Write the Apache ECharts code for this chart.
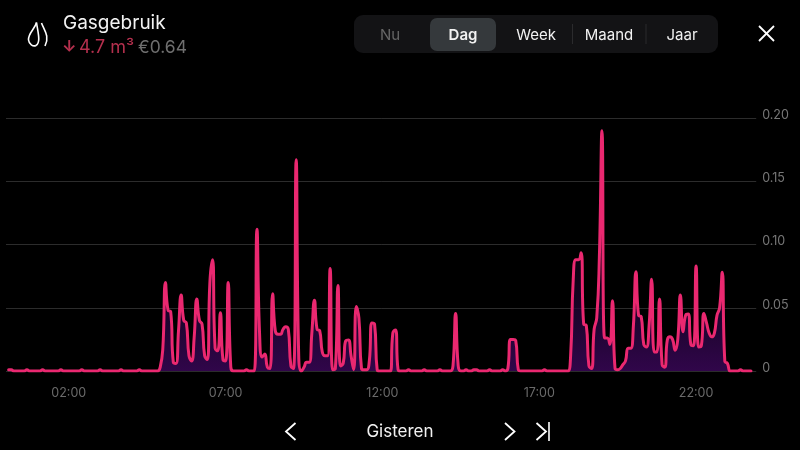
<!DOCTYPE html>
<html><head><meta charset="utf-8">
<style>html,body{margin:0;padding:0;background:#000}#c{width:800px;height:450px}</style>
<script src="https://cdn.jsdelivr.net/npm/echarts@6/dist/echarts.min.js"></script>
</head><body><div id="c"></div>
<script>
const title = 'Gasgebruik';
const arrowText = '↓';
const usageText = '4.7 m³';
const costText = '€0.64';
const ranges = ['Nu','Dag','Week','Maand','Jaar'];
const dayText = 'Gisteren';
const tickHours = ['02:00','07:00','12:00','17:00','22:00'];
const yTicks = [0,0.05,0.10,0.15,0.20];
// 5-minute readings, one row per hour
const h00 = [null,0.001,0.001,0,0,0,0,0,0.001,0,0,0];
const h01 = [0,0,0.001,0,0,0,0,0,0,0.001,0,0];
const h02 = [0,0,0,0,0,0.001,0,0,0,0,0,0];
const h03 = [0.001,0,0,0,0,0,0,0,0.001,0,0,0];
const h04 = [0,0,0,0.001,0,0,0,0,0,0,0,0.003];
const h05 = [0.018,0.07,0.048,0.047,0.007,0.006,0.032,0.06,0.04,0.038,0.012,0.008];
const h06 = [0.027,0.057,0.04,0.037,0.012,0.009,0.07,0.088,0.018,0.016,0.046,0.009];
const h07 = [0.008,0.07,0.003,0,0,0,0,0,0.001,0,0,0];
const h08 = [0.112,0.03,0.011,0.0135,0.003,0.002,0.061,0.032,0.029,0.029,0.033,0.035];
const h09 = [0.033,0.004,0.002,0.167,0.01,0,0.003,0.007,0.007,0.03,0.056,0.033];
const h10 = [0.032,0.015,0.012,0.012,0.081,0.001,0.002,0.0675,0.004,0.006,0.024,0.0245];
const h11 = [0.012,0.001,0.051,0.042,0.002,0.001,0.001,0.008,0.038,0.037,0.001,0];
const h12 = [0,0,0,0,0.03,0.0325,0.001,0,0,0,0.001,0];
const h13 = [0,0,0,0,0.001,0,0,0,0,0,0.001,0];
const h14 = [0,0,0,0.004,0.0455,0.004,0,0,0.001,0,0,0.001];
const h15 = [0.001,0,0,0,0,0.001,0,0,0,0,0.001,0];
const h16 = [0.002,0.025,0.025,0.024,0.001,0,0,0,0,0,0,0];
const h17 = [0,0,0.001,0,0,0,0,0,0,0,0,0];
const h18 = [0.012,0.072,0.088,0.088,0.0935,0.037,0.036,0.004,0.002,0.033,0.042,0.09];
const h19 = [0.19,0.026,0.026,0.021,0.0555,0.002,0.001,0.002,0.005,0.008,0.018,0.018];
const h20 = [0.035,0.0785,0.044,0.043,0.021,0.019,0.035,0.0725,0.015,0.015,0.057,0.005];
const h21 = [0.003,0.0245,0.027,0.025,0.0165,0.025,0.06,0.031,0.044,0.045,0.021,0.02];
const h22 = [0.083,0.019,0.02,0.0455,0.038,0.03,0.027,0.03,0.044,0.05,0.078,0.0075];
const h23 = [0.006,0,0,0,0,0.001,0,0,0,0,null,null];
const gas = [h00,h01,h02,h03,h04,h05,h06,h07,h08,h09,h10,h11,h12,h13,h14,h15,h16,h17,h18,h19,h20,h21,h22,h23].flat();
const categories = gas.map((_, i) => String(Math.floor(i/12)).padStart(2,'0') + ':' + String((i%12)*5).padStart(2,'0'));

const font = 'Inter';
const tabX = [390,463,536,609,682];
const curve = (x1,y1,cpx1,cpy1,cpx2,cpy2,x2,y2) => ({type:'bezierCurve',shape:{x1,y1,cpx1,cpy1,cpx2,cpy2,x2,y2},style:{stroke:'#fff',lineWidth:1.6,fill:null}});
const graphics = [
  curve(36.5,22.5,35,29,28,33,28.5,40),
  curve(28.5,40,29,44,33,47,36,45.5),
  curve(36,45.5,41,42,38,33,36.5,22.5),
  curve(41.5,23,44,30,50,36,45,46),
  {type:'text',x:63,y:23.5,style:{text:title,fill:'#f2f2f2',font:'19px '+font,textVerticalAlign:'middle'}},
  {type:'text',x:62,y:47.5,style:{text:arrowText,fill:'#b5304e',font:'700 16px '+font,textVerticalAlign:'middle'}},
  {type:'text',x:79,y:47.5,style:{text:usageText,fill:'#b5304e',font:'18px '+font,textVerticalAlign:'middle'}},
  {type:'text',x:138,y:47.5,style:{text:costText,fill:'#6f6f6f',font:'17.5px '+font,textVerticalAlign:'middle'}},
  {type:'rect',shape:{x:354,y:15,width:364,height:38,r:9},style:{fill:'#131315'}},
  {type:'rect',shape:{x:430,y:18,width:66,height:33,r:7},style:{fill:'#35393c'}},
  {type:'line',shape:{x1:572.5,y1:24,x2:572.5,y2:44},style:{stroke:'#2b2b2d',lineWidth:1}},
  {type:'line',shape:{x1:646,y1:24,x2:646,y2:44},style:{stroke:'#2b2b2d',lineWidth:1}},
  ...ranges.map((t,i)=>({type:'text',x:tabX[i],y:35,style:{text:t,fill:i===0?'#666':'#f2f2f2',font:(i===1?'600 ':'')+'15px '+font,textAlign:'center',textVerticalAlign:'middle'}})),
  {type:'polyline',shape:{points:[[759,26],[774,41]]},style:{stroke:'#fff',lineWidth:1.8,fill:null}},
  {type:'polyline',shape:{points:[[774,26],[759,41]]},style:{stroke:'#fff',lineWidth:1.8,fill:null}},
  {type:'polyline',shape:{points:[[295.5,423],[286,431.5],[295.5,440]]},style:{stroke:'#fff',lineWidth:1.8,fill:null}},
  {type:'polyline',shape:{points:[[505,423],[514.5,431.5],[505,440]]},style:{stroke:'#fff',lineWidth:1.8,fill:null}},
  {type:'polyline',shape:{points:[[536.5,423],[546,431.5],[536.5,440]]},style:{stroke:'#fff',lineWidth:1.8,fill:null}},
  {type:'line',shape:{x1:549,y1:422,x2:549,y2:441},style:{stroke:'#fff',lineWidth:1.6}},
  {type:'text',x:400,y:432,style:{text:dayText,fill:'#f2f2f2',font:'17px '+font,textAlign:'center',textVerticalAlign:'middle'}}
];
const chart = echarts.init(document.getElementById('c'), null, {renderer:'canvas'});
chart.setOption({
  backgroundColor:'#000',
  animation:false,
  grid:{left:6,top:118,width:750.2,height:253,containLabel:false},
  xAxis:{type:'category',data:categories,boundaryGap:false,
    axisLine:{show:false},axisTick:{show:false},splitLine:{show:false},
    axisLabel:{color:'#6a6a6a',fontSize:12.5,fontFamily:font,margin:16,
      interval:(i,v)=>tickHours.includes(v),formatter:v=>v}},
  yAxis:{type:'value',position:'right',min:0,max:0.2,interval:0.05,
    axisLine:{show:false},axisTick:{show:false},
    splitLine:{lineStyle:{color:'#2c2c2c',width:1}},
    axisLabel:{color:'#777',fontSize:12.5,fontFamily:font,margin:6,align:'left',verticalAlign:'bottom',lineHeight:6,
      formatter:v=>yTicks.includes(v)&&v!==0?v.toFixed(2):'0'}},
  series:[{type:'line',data:gas,smooth:0.5,showSymbol:false,connectNulls:false,
    lineStyle:{color:'#ea2870',width:3,join:'round',cap:'round'},
    areaStyle:{color:{type:'linear',x:0,y:0,x2:0,y2:1,colorStops:[
      {offset:0,color:'#000'},{offset:0.6,color:'#14041f'},{offset:1,color:'#45086a'}]}}}],
  graphic:graphics
});
</script></body></html>
